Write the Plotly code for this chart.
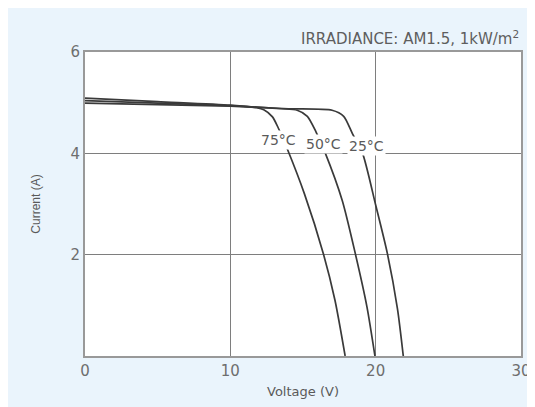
import plotly.graph_objects as go

# Data
v_25 = [0, 5, 10, 14, 17.0, 17.8, 18.4, 19.1, 20.0, 20.8, 21.5, 21.9]
i_25 = [4.99, 4.96, 4.93, 4.88, 4.85, 4.73, 4.39, 4.00, 2.98, 2.03, 0.93, 0.0]

v_50 = [0, 5, 10, 13.5, 14.6, 15.3, 15.9, 16.5, 17.7, 18.6, 19.4, 19.95]
i_50 = [5.04, 4.99, 4.94, 4.88, 4.85, 4.73, 4.42, 4.03, 3.07, 2.02, 0.97, 0.0]

v_75 = [0, 5, 10, 11.8, 12.3, 12.9, 13.3, 13.9, 15.1, 16.4, 17.2, 17.9]
i_75 = [5.09, 5.02, 4.95, 4.90, 4.86, 4.72, 4.50, 4.10, 3.20, 2.02, 1.10, 0.0]

labels = ["75°C", "50°C", "25°C"]
label_v = [13.3, 16.4, 19.4]
label_i = [4.27, 4.19, 4.14]

x_ticks = [0, 10, 20, 30]
y_ticks = [2, 4, 6]

fig = go.Figure()
for v, i in [(v_25, i_25), (v_50, i_50), (v_75, i_75)]:
    fig.add_trace(go.Scatter(x=v, y=i, mode="lines",
                             line=dict(color="#3a3a3a", width=1.7, shape="spline", smoothing=0.7),
                             showlegend=False, hoverinfo="skip"))

for t, x, y in zip(labels, label_v, label_i):
    fig.add_annotation(x=x, y=y, text=t, showarrow=False,
                       font=dict(family="DejaVu Sans", size=14, color="#5a5a5a"),
                       bgcolor="white", borderpad=1)

fig.add_annotation(xref="paper", yref="paper", x=1.0, y=1.005, xanchor="right", yanchor="bottom",
                   text="IRRADIANCE: AM1.5, 1kW/m<sup>2</sup>", showarrow=False,
                   font=dict(family="DejaVu Sans", size=15, color="#5e5e5e"))

fig.update_xaxes(range=[0, 30], tickvals=x_ticks, showgrid=True, gridcolor="#7e7e7e", gridwidth=1.3,
                 showline=True, linecolor="#999999", linewidth=2, mirror=True, zeroline=False,
                 ticks="", automargin=False,
                 tickfont=dict(family="DejaVu Sans", size=15, color="#6e6e6e"),
                 title=dict(text="Voltage (V)", font=dict(family="DejaVu Sans", size=13, color="#5a5a5a"),
                            standoff=8))
fig.update_yaxes(range=[0, 6], tickvals=y_ticks, showgrid=True, gridcolor="#7e7e7e", gridwidth=1.3,
                 showline=True, linecolor="#999999", linewidth=2, mirror=True, zeroline=False,
                 ticks="", automargin=False,
                 tickfont=dict(family="DejaVu Sans", size=15, color="#6e6e6e"),
                 title=dict(text="Current (A)", font=dict(family="Liberation Sans, Arial", size=12, color="#5a5a5a"),
                            standoff=27))

fig.update_layout(width=535, height=407, margin=dict(l=77, r=22, t=44, b=59, autoexpand=False),
                  paper_bgcolor="#eaf4fc", plot_bgcolor="white")

fig.write_html("out.html")
